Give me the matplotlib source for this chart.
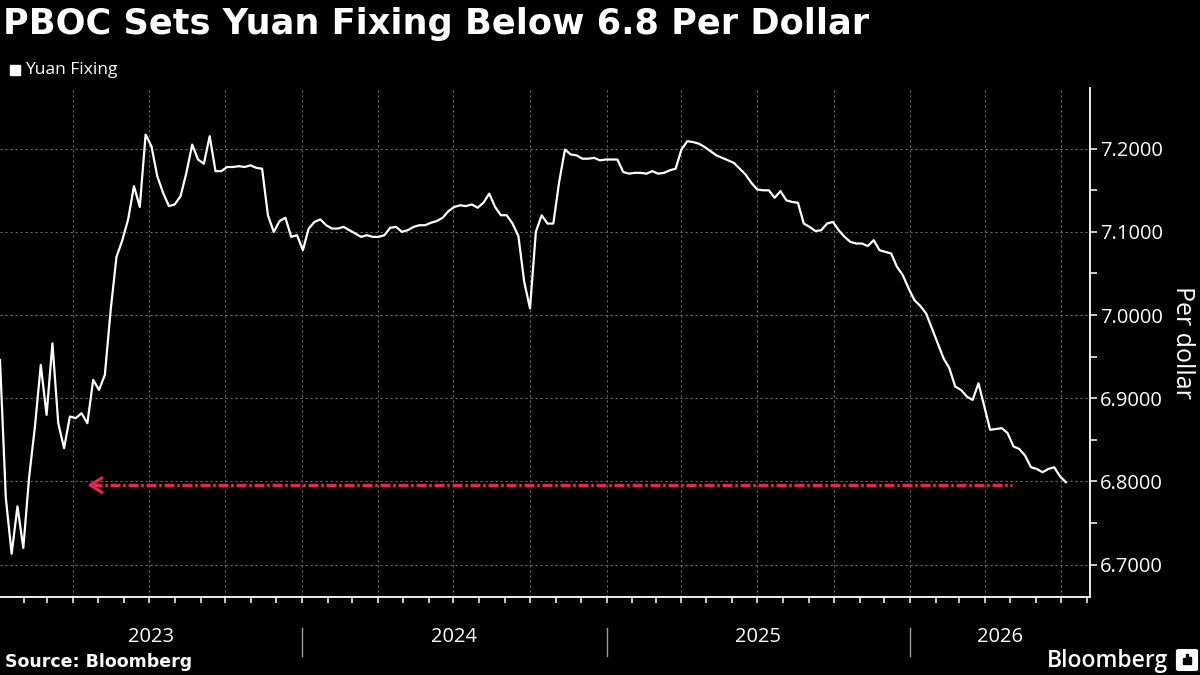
import matplotlib
matplotlib.use("Agg")
import matplotlib.pyplot as plt
import matplotlib.dates as mdates
import matplotlib.transforms as mtransforms
from matplotlib.patches import Rectangle, FancyBboxPatch
from matplotlib.ticker import FixedLocator, FormatStrFormatter
import pandas as pd

# weekly USD/CNY fixing, starting 2023-01-03
fixing = [
    6.946, 6.78, 6.713, 6.77, 6.72, 6.805, 6.866, 6.94, 6.88, 6.966,
    6.87, 6.84, 6.878, 6.876, 6.882, 6.87, 6.922, 6.91, 6.928, 7.006,
    7.07, 7.09, 7.115, 7.155, 7.13, 7.217, 7.203, 7.167, 7.147, 7.131,
    7.133, 7.143, 7.171, 7.205, 7.187,
    7.182, 7.215, 7.173, 7.173, 7.178, 7.178, 7.179, 7.178, 7.18, 7.177, 7.176,
    7.12, 7.10, 7.113, 7.117, 7.094, 7.096, 7.078, 7.104, 7.112, 7.115,
    7.108, 7.104, 7.104, 7.106, 7.102, 7.098, 7.094, 7.096, 7.094, 7.094,
    7.096, 7.105, 7.106, 7.1, 7.102, 7.106, 7.108, 7.108, 7.111, 7.113,
    7.117, 7.125, 7.13, 7.132, 7.131, 7.133, 7.129, 7.135, 7.146, 7.13,
    7.12, 7.12, 7.11, 7.095, 7.04, 7.008, 7.1, 7.12, 7.11, 7.11,
    7.16,
    7.199, 7.193, 7.192, 7.188, 7.188, 7.189, 7.186, 7.187, 7.187, 7.187,
    7.172, 7.17, 7.171, 7.171, 7.17, 7.173, 7.17, 7.171, 7.174, 7.176,
    7.199, 7.209, 7.208, 7.206, 7.202, 7.197, 7.192, 7.189, 7.186, 7.183,
    7.176, 7.169, 7.159, 7.151, 7.15, 7.15, 7.141, 7.149, 7.138, 7.136,
    7.135, 7.11, 7.106, 7.101, 7.102, 7.11, 7.112, 7.102, 7.094, 7.088,
    7.086, 7.086, 7.083, 7.09, 7.078, 7.076, 7.074, 7.058,
    7.048, 7.032, 7.018, 7.011, 7.002, 6.984, 6.966, 6.948, 6.936, 6.914,
    6.91, 6.902, 6.898, 6.918, 6.89, 6.862, 6.863, 6.864, 6.858, 6.842,
    6.839, 6.831, 6.817, 6.815, 6.811, 6.815, 6.817, 6.806, 6.799,
]
dates = pd.date_range("2023-01-03", periods=len(fixing), freq="7D")

y_ticks = [6.7, 6.8, 6.9, 7.0, 7.1, 7.2]
years = [2023, 2024, 2025, 2026]

arrow_level = 6.7955
arrow_from = pd.Timestamp("2026-05-03")
arrow_to = pd.Timestamp("2023-04-18")

x_start = pd.Timestamp("2023-01-03")
x_end = pd.Timestamp("2026-08-05")

plt.rcParams["font.family"] = ["Open Sans", "DejaVu Sans"]

W, H = 1200, 675
fig = plt.figure(figsize=(12, 6.75), dpi=100, facecolor="black")
ax = fig.add_axes([0, 78 / H, 1090 / W, (597 - 88) / H])
ax.set_facecolor("black")

ax.plot(dates, fixing, color="white", lw=1.6, solid_joinstyle="round", zorder=3)

ax.set_xlim(x_start, x_end)
ax.set_ylim(6.661, 7.273)

# y axis on the right
ax.yaxis.tick_right()
ax.yaxis.set_major_locator(FixedLocator(y_ticks))
ax.yaxis.set_minor_locator(FixedLocator([v + 0.05 for v in y_ticks[:-1]]))
ax.yaxis.set_major_formatter(FormatStrFormatter("%.4f"))
ax.tick_params(axis="y", which="both", colors="white", length=5, width=1.1,
               labelsize=14.5, pad=2)

# x axis: quarters carry the grid, months get small ticks
ax.xaxis.set_major_locator(mdates.MonthLocator(bymonth=[1, 4, 7, 10]))
ax.xaxis.set_minor_locator(mdates.MonthLocator())
ax.xaxis.set_major_formatter(plt.NullFormatter())
ax.tick_params(axis="x", which="both", colors="white", length=4, width=1.1)

ax.grid(True, which="major", color="#6a6a6a", lw=0.8, linestyle=(0, (2, 2.5)))

for side in ["top", "left"]:
    ax.spines[side].set_visible(False)
for side in ["right", "bottom"]:
    ax.spines[side].set_color("white")
    ax.spines[side].set_linewidth(1.3)

# year labels and separators under the axis
blend = mtransforms.blended_transform_factory(ax.transData, ax.transAxes)
ax_h = 597 - 88
lo, hi = mdates.date2num(x_start), mdates.date2num(x_end)
for yr in years:
    a = max(mdates.date2num(pd.Timestamp(f"{yr}-01-01")), lo)
    b = min(mdates.date2num(pd.Timestamp(f"{yr + 1}-01-01")), hi)
    ax.text((a + b) / 2, -(637 - 597) / ax_h, str(yr), transform=blend,
            ha="center", va="center", color="white", fontsize=14.5)
    if yr > years[0]:
        sep = mdates.date2num(pd.Timestamp(f"{yr}-01-01"))
        ax.plot([sep, sep], [-(628 - 597) / ax_h, -(656 - 597) / ax_h],
                transform=blend, clip_on=False, color="#9a9a9a", lw=1)

# red dash-dot arrow: the shaft as a dashed line, the head as an open chevron
red = "#e8254b"
ax.plot([arrow_to + pd.Timedelta(days=5), arrow_from], [arrow_level, arrow_level],
        color=red, lw=2.4, dashes=(3.0, 0.8, 0.8, 0.8), dash_capstyle="butt",
        zorder=4)
ax.annotate("", xy=(arrow_to, arrow_level),
            xytext=(arrow_to + pd.Timedelta(days=12), arrow_level),
            arrowprops=dict(arrowstyle="->,head_length=0.42,head_width=0.26",
                            color=red, lw=2.2, mutation_scale=20,
                            shrinkA=0, shrinkB=0),
            zorder=4)

# texts around the chart
fig.text(3 / W, 1 - 24 / H, "PBOC Sets Yuan Fixing Below 6.8 Per Dollar",
         color="white", fontsize=25.3, fontweight="bold", family="DejaVu Sans",
         ha="left", va="center")
fig.add_artist(Rectangle((10 / W, 1 - 75 / H), 10 / W, 10 / H,
                         transform=fig.transFigure, color="white"))
fig.text(25 / W, 1 - 70 / H, "Yuan Fixing", color="white", fontsize=12.5,
         ha="left", va="center")
fig.text(1183 / W, 1 - 342 / H, "Per dollar", color="white", fontsize=18,
         rotation=270, ha="center", va="center")
fig.text(5 / W, 1 - 662 / H, "Source: Bloomberg", color="white", fontsize=12.5,
         fontweight="bold", family="DejaVu Sans", ha="left", va="center")
fig.text(1168 / W, 1 - 661 / H, "Bloomberg", color="white", fontsize=16.5,
         fontweight="semibold", ha="right", va="center")
fig.add_artist(FancyBboxPatch((1179 / W, 1 - 669 / H), 16 / W, 18 / H,
                              boxstyle="round,pad=0.002",
                              transform=fig.transFigure, color="white"))
for k, hgt in enumerate([6, 10, 7]):
    fig.add_artist(Rectangle(((1183 + 3 * k) / W, 1 - 664 / H), 1.6 / W, hgt / H,
                             transform=fig.transFigure, color="black"))

fig.savefig("out.png", dpi=100, facecolor="black")
